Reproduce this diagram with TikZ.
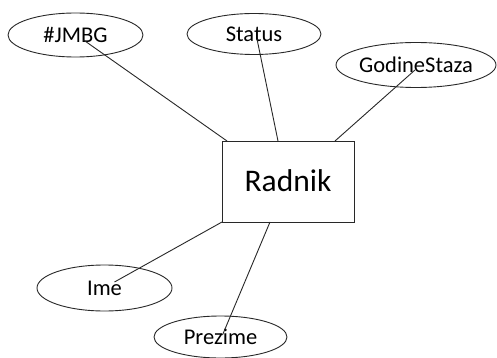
\documentclass[tikz,border=0pt]{standalone}
\usepackage{fontspec}
\setmainfont{Carlito}
\usetikzlibrary{shapes.geometric}
\definecolor{ink}{RGB}{40,40,40}
\tikzset{
  attr/.style={ellipse, draw=ink, line width=0.9pt, inner sep=0pt, outer sep=0pt},
  lbl/.style={font=\fontsize{22.5pt}{24pt}\selectfont, text=black, inner sep=0pt, text height=14.5pt, text depth=0pt},
  ent/.style={rectangle, draw=ink, line width=0.9pt, minimum width=132pt, minimum height=81pt, inner sep=0pt, outer sep=0pt,
    font=\fontsize{31.5pt}{33pt}\selectfont, text height=20.3pt, text depth=0pt},
  link/.style={draw=ink, line width=0.9pt}
}
\begin{document}
\begin{tikzpicture}[x=1pt,y=-1pt]
\useasboundingbox[fill=white] (0,0) rectangle (497,358);
\node[ent] (r) at (288,181.5) {Radnik};
\node[attr, minimum width=135pt, minimum height=44pt, label={[lbl]center:\#JMBG}] (jmbg) at (75.5,35) {};
\node[attr, minimum width=134pt, minimum height=41pt, label={[lbl]center:Status}] (status) at (254,34) {};
\node[attr, minimum width=160pt, minimum height=45pt, label={[lbl]center:GodineStaza}] (gs) at (416,65) {};
\node[attr, minimum width=135pt, minimum height=46pt, label={[lbl]center:Ime}] (ime) at (104.5,288) {};
\node[attr, minimum width=133pt, minimum height=42pt, label={[lbl]center:Prezime}] (prez) at (220.5,337) {};
\draw[link] ([shift={(8,5)}]jmbg.center) -- ([xshift=5pt]r.north west);
\draw[link] ([shift={(3,5)}]status.center) -- ([xshift=-10pt]r.north);
\draw[link] ([shift={(-1,5)}]gs.center) -- ([xshift=-19pt]r.north east);
\draw[link] ([shift={(10,-6)}]ime.center) -- (r.south west);
\draw[link] ([shift={(2,-2)}]prez.center) -- ([xshift=-18pt]r.south);
\end{tikzpicture}
\end{document}
